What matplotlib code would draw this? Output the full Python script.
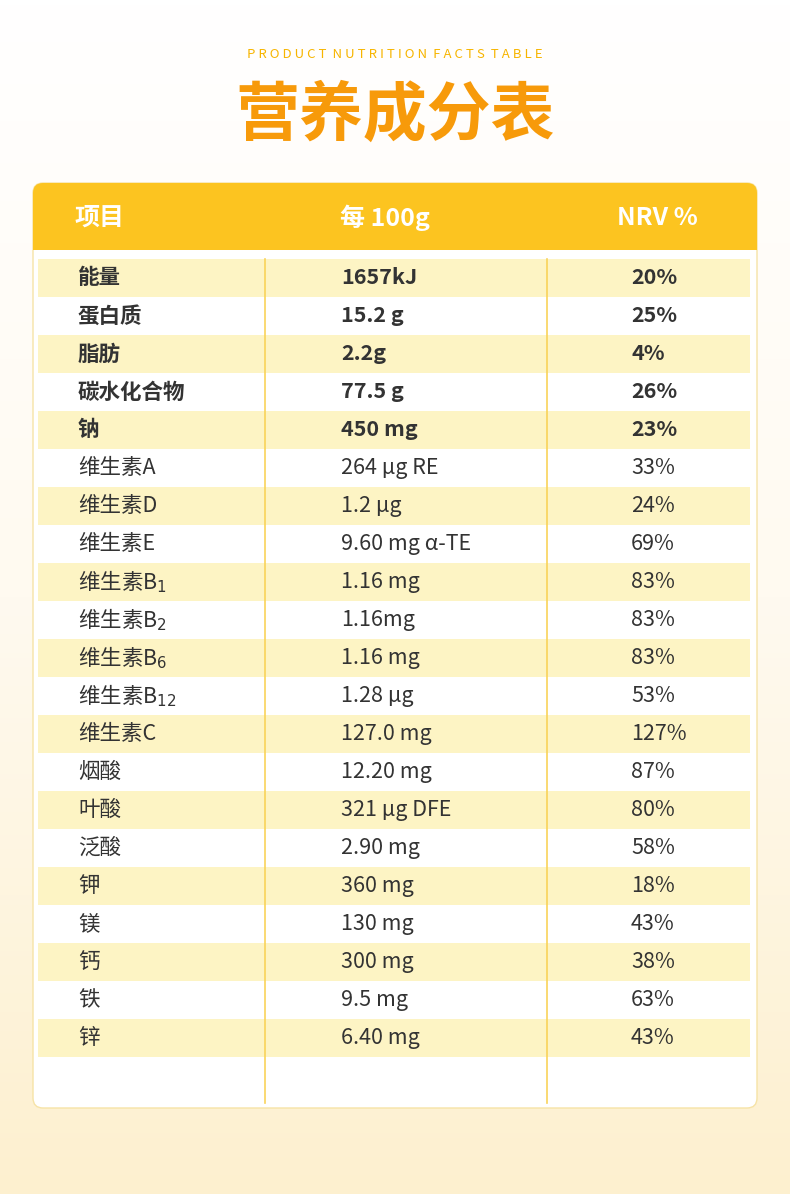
from matplotlib import pyplot as plt
from matplotlib.patches import FancyBboxPatch, Rectangle
import numpy as np

plt.rcParams['font.family'] = ['Noto Sans CJK SC', 'DejaVu Sans']

items = ['能量', '蛋白质', '脂肪', '碳水化合物', '钠', '维生素A', '维生素D', '维生素E',
         '维生素B$_1$', '维生素B$_2$', '维生素B$_6$', '维生素B$_{12}$', '维生素C', '烟酸',
         '叶酸', '泛酸', '钾', '镁', '钙', '铁', '锌']
per_100g = ['1657kJ', '15.2 g', '2.2g', '77.5 g', '450 mg', '264 µg RE', '1.2 µg',
            '9.60 mg α-TE', '1.16 mg', '1.16mg', '1.16 mg', '1.28 µg', '127.0 mg',
            '12.20 mg', '321 µg DFE', '2.90 mg', '360 mg', '130 mg', '300 mg',
            '9.5 mg', '6.40 mg']
nrv = ['20%', '25%', '4%', '26%', '23%', '33%', '24%', '69%', '83%', '83%', '83%',
       '53%', '127%', '87%', '80%', '58%', '18%', '43%', '38%', '63%', '43%']
bold_rows = 5

plt.figure(figsize=(7.9, 11.94), dpi=100)
ax = plt.axes([0, 0, 1, 1])
ax.set_xlim(0, 790)
ax.set_ylim(1194, 0)
ax.axis('off')

# background gradient, white to pale yellow
grad = np.linspace(0, 1, 256).reshape(-1, 1)
cmap = plt.matplotlib.colors.LinearSegmentedColormap.from_list('bg', ['#ffffff', '#fffaf0', '#fdf0cf'])
ax.imshow(grad, extent=(0, 790, 1194, 0), cmap=cmap, aspect='auto', zorder=0)

plt.text(395, 55, 'P R O D U C T   N U T R I T I O N   F A C T S   T A B L E'.replace('   ', '  '),
         ha='center', va='center', fontsize=9.5, color='#f7b500')
plt.text(395, 116, '营养成分表', ha='center', va='center', fontsize=46,
         color='#f79a0a', fontweight='bold')

# card
ax.add_patch(FancyBboxPatch((33, 183), 724, 925, boxstyle='round,pad=0,rounding_size=10',
                            fc='white', ec='#f6e3a6', lw=1, zorder=1))
ax.add_patch(FancyBboxPatch((33, 183), 724, 67, boxstyle='round,pad=0,rounding_size=10',
                            fc='#fcc420', ec='none', zorder=2))
ax.add_patch(Rectangle((33, 230), 724, 20, fc='#fcc420', ec='none', zorder=2))
for x, t in [(75, '项目'), (340, '每 100g'), (617, 'NRV %')]:
    plt.text(x, 218, t, ha='left', va='center', fontsize=18, color='white',
             fontweight='bold', zorder=3)

top = 259
h = 38
for i in range(len(items)):
    yc = top + h * i + h / 2
    if i % 2 == 0:
        ax.add_patch(Rectangle((38, top + h * i), 712, h, fc='#fdf4c4', ec='none', zorder=2))
    w = 'bold' if i < bold_rows else 'normal'
    plt.text(78, yc, items[i], ha='left', va='center', fontsize=15.5, color='#333333',
             fontweight=w, zorder=3)
    plt.text(341, yc, per_100g[i], ha='left', va='center', fontsize=15.5, color='#333333',
             fontweight=w, zorder=3)
    plt.text(631, yc, nrv[i], ha='left', va='center', fontsize=15.5, color='#333333',
             fontweight=w, zorder=3)

for x in [265, 547]:
    plt.plot([x, x], [259, 1103], color='#f9d35a', lw=1.2, zorder=4)

plt.savefig('out.png', dpi=100)
plt.close()
